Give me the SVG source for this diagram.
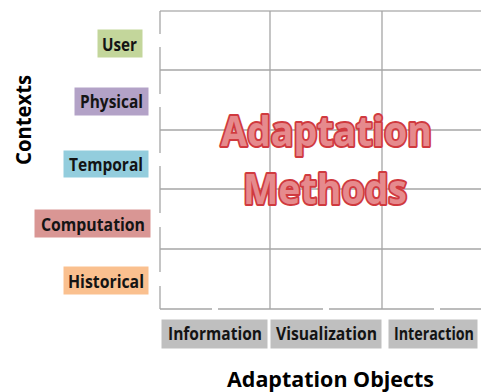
<svg xmlns="http://www.w3.org/2000/svg" width="481" height="392" viewBox="0 0 481 392">
<style>
.lbl{font-family:"Open Sans","Liberation Sans",sans-serif;font-weight:bold;font-size:17px;fill:#141414}
.box{stroke:#ffffff;stroke-width:1}
.grid{stroke:#a6a6a6;stroke-width:1.3;fill:none}
.title{font-family:"Open Sans","Liberation Sans",sans-serif;font-weight:bold;font-size:22px;fill:#000}
.big{font-family:"Open Sans","Liberation Sans",sans-serif;font-weight:bold;font-size:42px;fill:#e68a8d;stroke:#d03a3f;stroke-width:4;paint-order:stroke;stroke-linejoin:round}
</style>
<rect width="481" height="392" fill="#ffffff"/>
<g id="grid">
<line x1="160" y1="11" x2="481" y2="11" stroke="#c8c8c8" stroke-width="2"/>
<path class="grid" d="M160 11V34M160 47V94M160 107V153M160 166V213M160 227V272M160 286V309"/>
<path class="grid" d="M160 309H212M218 309H323M329 309H434M440 309H481"/>
<path class="grid" d="M160 70H481M160 130H481M160 189H481M160 249H481"/>
<path class="grid" d="M270 11V309M382 11V309"/>
</g>
<g id="user"><rect class="box" x="97" y="29" width="46" height="29" fill="#c3d69b"/><text class="lbl" x="137" y="51" text-anchor="end" textLength="35" lengthAdjust="spacingAndGlyphs">User</text></g>
<g id="physical"><rect class="box" x="74" y="87" width="75" height="29" fill="#b3a2c7"/><text class="lbl" x="143" y="108" text-anchor="end" textLength="63" lengthAdjust="spacingAndGlyphs">Physical</text></g>
<g id="temporal"><rect class="box" x="63" y="150" width="86" height="28" fill="#93cddd"/><text class="lbl" x="143" y="171" text-anchor="end" textLength="74" lengthAdjust="spacingAndGlyphs">Temporal</text></g>
<g id="computation"><rect class="box" x="34" y="209" width="117" height="29" fill="#d99694"/><text class="lbl" x="145" y="231" text-anchor="end" textLength="104" lengthAdjust="spacingAndGlyphs">Computation</text></g>
<g id="historical"><rect class="box" x="63" y="266" width="86" height="29" fill="#fac08f"/><text class="lbl" x="144" y="288" text-anchor="end" textLength="76" lengthAdjust="spacingAndGlyphs">Historical</text></g>
<g id="information"><rect class="box" x="161" y="319" width="107" height="30" fill="#bfbfbf"/><text class="lbl" x="168" y="340" textLength="94" lengthAdjust="spacingAndGlyphs">Information</text></g>
<g id="visualization"><rect class="box" x="270" y="319" width="112" height="30" fill="#bfbfbf"/><text class="lbl" x="276" y="340" textLength="101" lengthAdjust="spacingAndGlyphs">Visualization</text></g>
<g id="interaction"><rect class="box" x="388" y="319" width="90" height="30" fill="#bfbfbf"/><text class="lbl" x="394" y="340" textLength="80" lengthAdjust="spacingAndGlyphs">Interaction</text></g>
<g id="contexts"><text class="title" transform="translate(31,120) rotate(-90)" text-anchor="middle" textLength="90" lengthAdjust="spacingAndGlyphs">Contexts</text></g>
<g id="objects"><text class="title" x="227" y="387" textLength="207" lengthAdjust="spacingAndGlyphs">Adaptation Objects</text></g>
<g id="methods">
<text class="big" x="221" y="146" textLength="211" lengthAdjust="spacingAndGlyphs">Adaptation</text>
<text class="big" x="243" y="204" textLength="164" lengthAdjust="spacingAndGlyphs">Methods</text>
</g>
</svg>
